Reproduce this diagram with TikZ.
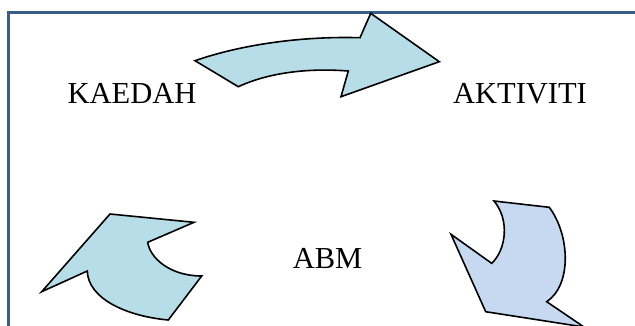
\documentclass[tikz,border=0pt]{standalone}
\usepackage{fontspec}
\setmainfont{Liberation Serif}
\definecolor{framec}{HTML}{385D8A}
\definecolor{tealf}{HTML}{B7DEE8}
\definecolor{bluef}{HTML}{C6D9F1}
\tikzset{
  label/.style={anchor=base, inner sep=0pt, font=\fontsize{30.5}{36}\selectfont},
  bigarrow/.style={draw=black, line width=1.6pt, line join=miter},
  frameline/.style={draw=framec, line width=2.5pt}
}
\begin{document}
\begin{tikzpicture}[x=1pt,y=-1pt]
\useasboundingbox (0,0) rectangle (635,325);
% frame
\draw[frameline] (8.5,340) -- (8.5,12.5) -- (650,12.5);
% top arrow
\path[bigarrow, fill=tealf] (195,60.7) .. controls (240,45) and (300,36) .. (360,37.7)
  -- (370.7,13.3) -- (439.3,61.7) -- (341,96.7) -- (348.3,71)
  .. controls (310,68) and (270,72) .. (238.3,86.7) -- cycle;
% bottom-left arrow
\path[bigarrow, fill=tealf] (41.7,291.7) -- (110,214) -- (194,222.3) -- (147.7,242.3)
  .. controls (150,258) and (170,276) .. (201.7,276)
  -- (168.3,320)
  .. controls (125,316) and (88,298) .. (87.3,271) -- cycle;
% bottom-right arrow
\path[bigarrow, fill=bluef] (494,201) -- (549.3,207.3)
  .. controls (570,235) and (572,285) .. (546.7,301.7)
  -- (584,327) -- (485.7,311.7) -- (451,234.3) -- (491.7,263.3)
  .. controls (506,250) and (510,220) .. (494,201) -- cycle;
% labels
\node[label] (kaedah) at (132,103.3) {KAEDAH};
\node[label] (aktiviti) at (520,103.3) {AKTIVITI};
\node[label] (abm) at (327.5,268.3) {ABM};
\end{tikzpicture}
\end{document}
